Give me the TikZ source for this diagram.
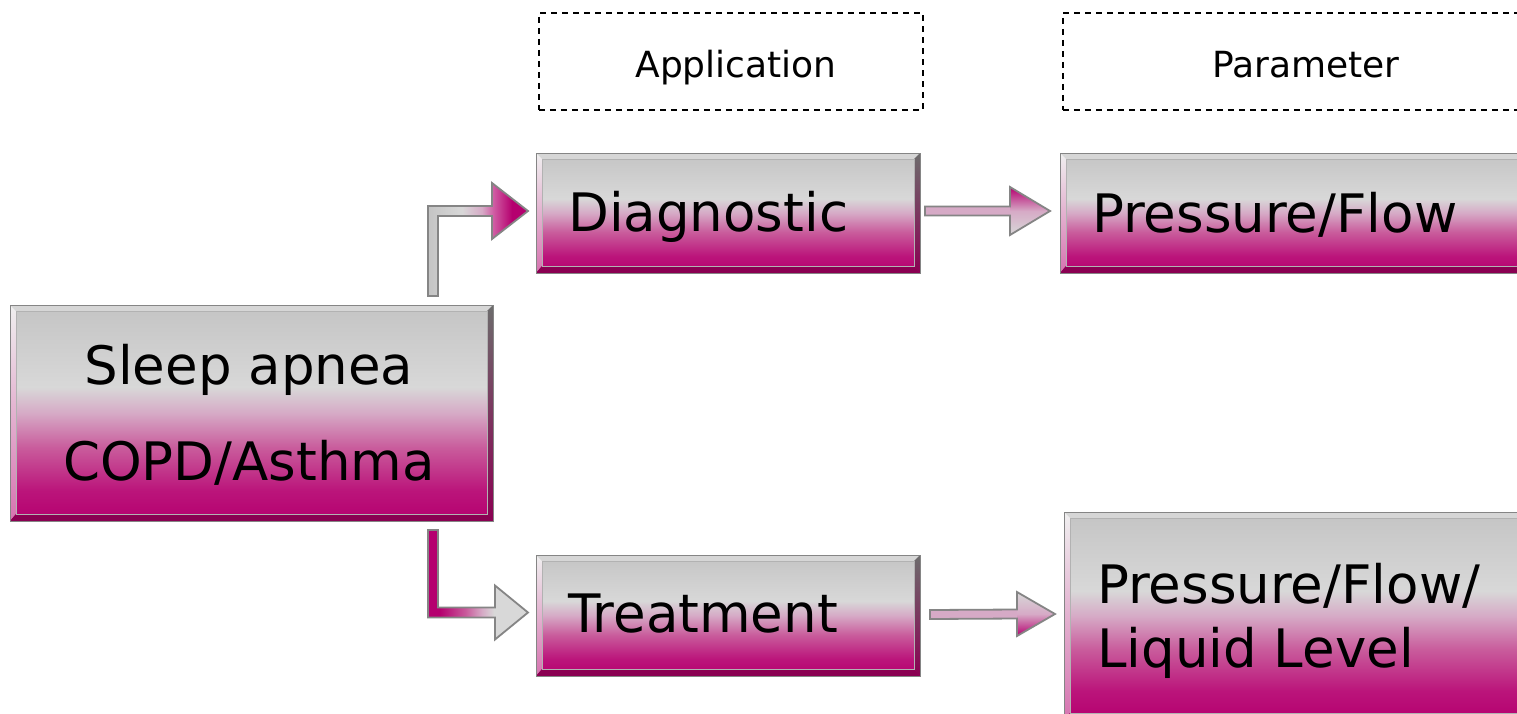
\documentclass[tikz,border=0pt]{standalone}
\usepackage{fontspec}
\setmainfont{DejaVu Sans}
\usetikzlibrary{calc}
\definecolor{mag}{HTML}{B5006F}
\definecolor{magdark}{HTML}{8A0052}
\definecolor{fgray}{HTML}{C4C4C4}
\definecolor{flight}{HTML}{D8D8D8}
\definecolor{fpink}{HTML}{D6AAC6}
\definecolor{fpinkb}{HTML}{C95C9C}
\definecolor{edgegray}{HTML}{858585}
\definecolor{bevtop}{HTML}{D6D6D6}
\pgfdeclareverticalshading{faceshade}{100bp}{color(0bp)=(mag); color(25bp)=(mag); color(32bp)=(mag!92!white); color(42bp)=(fpinkb); color(50bp)=(fpink); color(56bp)=(flight); color(75bp)=(fgray); color(100bp)=(fgray)}
\pgfdeclarehorizontalshading{elbowup}{100bp}{color(0bp)=(fgray); color(25bp)=(fgray); color(42bp)=(flight); color(52bp)=(fpink); color(58bp)=(mag!65!white); color(67bp)=(mag); color(100bp)=(mag)}
\pgfdeclarehorizontalshading{elbowdown}{100bp}{color(0bp)=(mag); color(31bp)=(mag); color(44bp)=(fpinkb); color(52bp)=(fpink); color(58bp)=(flight); color(100bp)=(flight)}
\tikzset{
  bevelbox/.style={draw=edgegray, line width=0.8pt, inner sep=0pt, outer sep=0pt, anchor=north west, shading=faceshade,
    path picture={
      \coordinate (nw) at (path picture bounding box.north west);
      \coordinate (ne) at (path picture bounding box.north east);
      \coordinate (sw) at (path picture bounding box.south west);
      \coordinate (se) at (path picture bounding box.south east);
      \fill[bevtop] (nw) -- (ne) -- ($(ne)+(-6,6)$) -- ($(nw)+(6,6)$) -- cycle;
      \shade[top color=white!88!gray, bottom color=mag!55!white] (nw) -- ($(nw)+(6,6)$) -- ($(sw)+(6,-7)$) -- (sw) -- cycle;
      \shade[top color=gray!85!black, bottom color=magdark] (ne) -- ($(ne)+(-6,6)$) -- ($(se)+(-6,-7)$) -- (se) -- cycle;
      \fill[magdark] (sw) -- ($(sw)+(6,-7)$) -- ($(se)+(-6,-7)$) -- (se) -- cycle;
      \draw[gray!60, line width=0.5pt] ($(nw)+(6,6)$) rectangle ($(se)+(-6,-7)$);
    }},
  dashbox/.style={draw=black, line width=1.6pt, dash pattern=on 6pt off 5pt, inner sep=0pt, anchor=north west},
  headtext/.style={inner sep=0pt, anchor=base, font=\fontsize{36}{43}\selectfont},
  bigtext/.style={inner sep=0pt, font=\fontsize{53}{64}\selectfont},
  fatarrow/.style={draw=edgegray, line width=1.8pt, line join=miter}
}
\begin{document}
\begin{tikzpicture}[x=1pt,y=-1pt]
\useasboundingbox (0,0) rectangle (1517,713);
\clip (0,0) rectangle (1517,713);
\fill[white] (0,0) rectangle (1517,713);

% header boxes
\node[dashbox, minimum width=384, minimum height=97] (app) at (538,12) {};
\node[dashbox, minimum width=488, minimum height=97] (par) at (1062,12) {};
\node[headtext] (apptxt) at (736,77) {Application};
\node[headtext] (partxt) at (1306,77) {Parameter};

% boxes
\node[bevelbox, minimum width=483, minimum height=216] (sleep) at (10,305) {};
\node[bevelbox, minimum width=384, minimum height=120] (diag) at (536,153) {};
\node[bevelbox, minimum width=470, minimum height=120] (pf) at (1060,153) {};
\node[bevelbox, minimum width=384, minimum height=121] (treat) at (536,555) {};
\node[bevelbox, minimum width=466, minimum height=208] (pfl) at (1064,512) {};

% texts
\node[bigtext, anchor=base] (sleeptxt1) at (249,384) {Sleep apnea};
\node[bigtext, anchor=base] (sleeptxt2) at (249,480) {COPD/Asthma};
\node[bigtext, anchor=base west] (diagtxt) at (568,231) {Diagnostic};
\node[bigtext, anchor=base west] (pftxt) at (1092,232) {Pressure/Flow};
\node[bigtext, anchor=base west] (treattxt) at (568,632) {Treatment};
\node[bigtext, anchor=base west] (pfltxt1) at (1097,603) {Pressure/Flow/};
\node[bigtext, anchor=base west] (pfltxt2) at (1097,667) {Liquid Level};

% elbow arrow sleep -> diagnostic
\coordinate (a1) at ($(sleep.north west)+(423,-9)$);
\coordinate (t1) at ($(diag.west)+(-8,-2)$);
\path[fatarrow, shading=elbowup] ($(a1)+(-5,0)$) -- ($(a1|-t1)+(-5,-5)$) -- ($(t1)+(-36,-5)$) -- ($(t1)+(-36,-28)$) -- (t1) -- ($(t1)+(-36,28)$) -- ($(t1)+(-36,5)$) -- ($(a1|-t1)+(5,5)$) -- ($(a1)+(5,0)$) -- cycle;

% elbow arrow sleep -> treatment
\coordinate (a2) at ($(sleep.south west)+(423,9)$);
\coordinate (t2) at ($(treat.west)+(-8,-3)$);
\path[fatarrow, shading=elbowdown] ($(a2)+(-5,0)$) -- ($(a2|-t2)+(-5,5)$) -- ($(t2)+(-33,5)$) -- ($(t2)+(-33,27)$) -- (t2) -- ($(t2)+(-33,-27)$) -- ($(t2)+(-33,-5)$) -- ($(a2|-t2)+(5,-5)$) -- ($(a2)+(5,0)$) -- cycle;

% diagnostic -> pressure/flow
\coordinate (s3) at ($(diag.east)+(5,-2)$);
\coordinate (t3) at ($(pf.west)+(-10,-2)$);
\fill[fpink] ($(s3)+(0,-4.5)$) rectangle ($(t3)+(-40,4.5)$);
\shade[top color=mag, bottom color=flight, middle color=fpink] ($(t3)+(-40,-24)$) -- (t3) -- ($(t3)+(-40,24)$) -- cycle;
\draw[fatarrow] ($(s3)+(0,-4.5)$) -- ($(t3)+(-40,-4.5)$) -- ($(t3)+(-40,-24)$) -- (t3) -- ($(t3)+(-40,24)$) -- ($(t3)+(-40,4.5)$) -- ($(s3)+(0,4.5)$) -- cycle;

% treatment -> pressure/flow/liquid level
\coordinate (s4) at ($(treat.east)+(10,-1)$);
\coordinate (t4) at ($(pfl.west)+(-9,-2)$);
\fill[fpink] ($(s4)+(0,-4.5)$) rectangle ($(t4)+(-38,4.5)$);
\shade[top color=flight, bottom color=mag, middle color=fpink] ($(t4)+(-38,-22)$) -- (t4) -- ($(t4)+(-38,22)$) -- cycle;
\draw[fatarrow] ($(s4)+(0,-4.5)$) -- ($(t4)+(-38,-4.5)$) -- ($(t4)+(-38,-22)$) -- (t4) -- ($(t4)+(-38,22)$) -- ($(t4)+(-38,4.5)$) -- ($(s4)+(0,4.5)$) -- cycle;
\end{tikzpicture}
\end{document}
